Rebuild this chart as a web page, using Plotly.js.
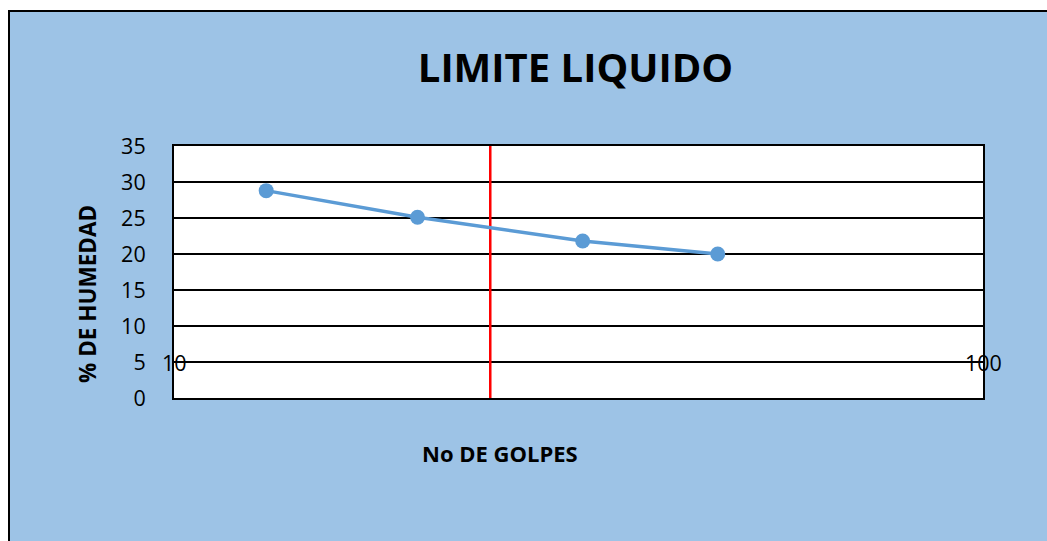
<!DOCTYPE html>
<html>
<head>
<meta charset="utf-8">
<script src="https://cdn.plot.ly/plotly-3.0.1.min.js"></script>
<style>
  html, body { margin: 0; padding: 0; background: #ffffff; overflow: hidden; }
  #wrap { position: absolute; left: 8px; top: 10px; width: 1037px; height: 529px;
          border-left: 2px solid #000; border-top: 2px solid #000; background: #9DC3E6; }
  #chart { width: 1037px; height: 529px; }
</style>
</head>
<body>
<div id="wrap"><div id="chart"></div></div>
<script>
// Data
const golpes = [13, 20, 32, 47];
const humedad = [28.8, 25.1, 21.8, 20.0];
const limiteX = [24.6, 24.6];
const limiteY = [0, 35];
const xTickVals = [10, 100];
const xTickText = ['10', '100'];
const yTickVals = [0, 5, 10, 15, 20, 25, 30, 35];

const FONT = '"Open Sans", "Liberation Sans", sans-serif';

const traces = [
  {
    x: limiteX, y: limiteY, type: 'scatter', mode: 'lines',
    line: { color: '#FF0000', width: 2.5 }, hoverinfo: 'skip', showlegend: false
  },
  {
    x: golpes, y: humedad, type: 'scatter', mode: 'lines+markers',
    line: { color: '#5B9BD5', width: 3.5 },
    marker: { color: '#5B9BD5', size: 15 },
    showlegend: false
  }
];

const annotations = xTickVals.map((v, i) => ({
  x: Math.log10(v), y: 5, xref: 'x', yref: 'y', text: xTickText[i],
  showarrow: false, xanchor: 'center', yanchor: 'middle',
  font: { family: FONT, size: 21.5, color: '#000' }
}));
annotations.push({
  x: -0.1063, y: 0.413, xref: 'paper', yref: 'paper', text: '<b>% DE HUMEDAD</b>',
  textangle: -90, showarrow: false, xanchor: 'center', yanchor: 'middle',
  font: { family: FONT, size: 22.5, color: '#000' }
});
annotations.push({
  x: 0.403, y: -0.218, xref: 'paper', yref: 'paper', text: '<b>No DE GOLPES</b>',
  showarrow: false, xanchor: 'center', yanchor: 'middle',
  font: { family: FONT, size: 22, color: '#000' }
});

const layout = {
  width: 1037, height: 529,
  margin: { l: 164, r: 64, t: 134, b: 143 },
  paper_bgcolor: 'rgba(0,0,0,0)',
  plot_bgcolor: '#FFFFFF',
  title: {
    text: '<b>LIMITE LIQUIDO</b>', x: 0.5453, xanchor: 'center', xref: 'container',
    y: 0.894, yanchor: 'middle', yref: 'container',
    font: { family: FONT, size: 40, color: '#000' }
  },
  xaxis: {
    type: 'log', range: [1, 2], showgrid: false, zeroline: false,
    showticklabels: false, ticks: '',
    showline: true, mirror: true, linecolor: '#000', linewidth: 2
  },
  yaxis: {
    range: [0, 35], tickvals: yTickVals, showgrid: true, gridcolor: '#000', gridwidth: 2,
    zeroline: false, ticks: '', ticklabelstandoff: 22,
    showline: true, mirror: true, linecolor: '#000', linewidth: 2,
    tickfont: { family: FONT, size: 21.5, color: '#000' }
  },
  annotations: annotations,
  showlegend: false
};

Plotly.newPlot('chart', traces, layout, { displayModeBar: false, staticPlot: true });
</script>
</body>
</html>
